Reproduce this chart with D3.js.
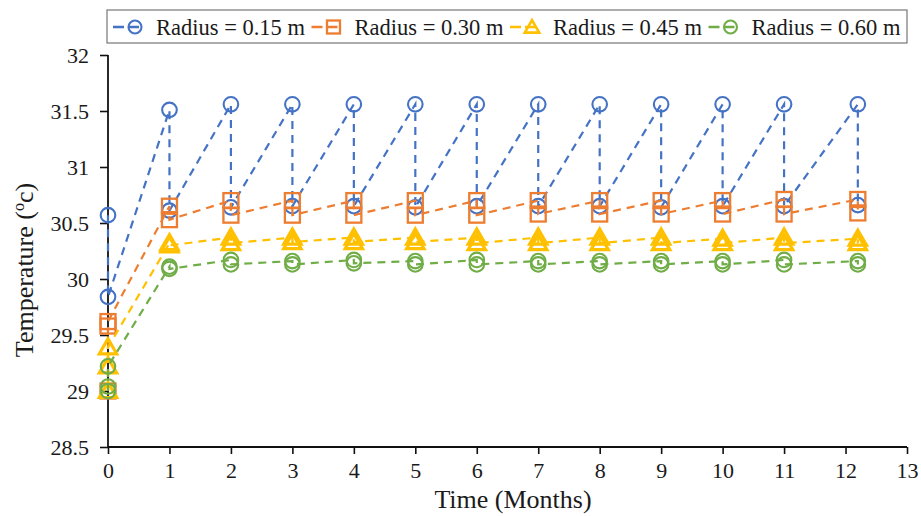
<!DOCTYPE html>
<html>
<head>
<meta charset="utf-8">
<script src="https://cdn.jsdelivr.net/npm/d3@7"></script>
<style>
  html, body { margin: 0; padding: 0; background: #fff; }
  svg { display: block; }
  text { font-family: "Liberation Serif", "Times New Roman", Tinos, "DejaVu Serif", serif; fill: #1a1a1a; }
</style>
</head>
<body>
<svg id="chart" width="921" height="516"></svg>
<script>
const FONT = '"Liberation Serif", "Times New Roman", Tinos, "DejaVu Serif", serif';

// Monthly sampling times (last sample falls a little after month 12)
const months = [1, 2, 3, 4, 5, 6, 7, 8, 9, 10, 11, 12.2];

// Readings at t = 0, followed by the monthly peak / low pairs for each radius
const blueStart = [30.57, 29.84];
const bluePeak  = [31.51, 31.56, 31.56, 31.56, 31.56, 31.56, 31.56, 31.56, 31.56, 31.56, 31.56, 31.56];
const blueLow   = [30.61, 30.64, 30.65, 30.65, 30.64, 30.65, 30.65, 30.65, 30.64, 30.65, 30.65, 30.66];

const orangeStart = [29.00, 29.58, 29.62];
const orangePeak  = [30.65, 30.70, 30.70, 30.70, 30.70, 30.70, 30.70, 30.70, 30.70, 30.70, 30.71, 30.71];
const orangeLow   = [30.53, 30.57, 30.57, 30.57, 30.57, 30.57, 30.58, 30.58, 30.58, 30.58, 30.58, 30.59];

const yellowStart = [29.00, 29.22, 29.39];
const yellowPeak  = [30.32, 30.37, 30.37, 30.37, 30.37, 30.37, 30.37, 30.37, 30.37, 30.36, 30.37, 30.36];
const yellowLow   = [30.30, 30.32, 30.33, 30.33, 30.33, 30.32, 30.32, 30.32, 30.32, 30.32, 30.32, 30.32];

const greenStart = [29.00, 29.04, 29.22];
const greenPeak  = [30.11, 30.17, 30.16, 30.17, 30.16, 30.17, 30.16, 30.16, 30.16, 30.16, 30.17, 30.16];
const greenLow   = [30.09, 30.13, 30.13, 30.14, 30.13, 30.13, 30.13, 30.13, 30.13, 30.13, 30.13, 30.13];

const seriesNames = ["Radius = 0.15 m", "Radius = 0.30 m", "Radius = 0.45 m", "Radius = 0.60 m"];
const seriesColors = ["#4472C4", "#ED7D31", "#FFC000", "#70AD47"];
const seriesMarkers = ["circle", "square", "triangle", "circle"];

const xTicks = d3.range(0, 14, 1);
const yTicks = [28.5, 29, 29.5, 30, 30.5, 31, 31.5, 32];

// Build the ordered point sequence of one series: start readings, then peak→low per month
function buildSeries(start, peak, low) {
  const pts = start.map(v => ({ t: 0, v }));
  months.forEach((m, i) => {
    pts.push({ t: m, v: peak[i] });
    pts.push({ t: m, v: low[i] });
  });
  return pts;
}

const series = [
  buildSeries(blueStart, bluePeak, blueLow),
  buildSeries(orangeStart, orangePeak, orangeLow),
  buildSeries(yellowStart, yellowPeak, yellowLow),
  buildSeries(greenStart, greenPeak, greenLow)
];

const svg = d3.select("#chart");
const x = d3.scaleLinear().domain([0, 13]).range([108, 907]);
const y = d3.scaleLinear().domain([28.5, 32]).range([447, 55]);

// Axes
const xAxis = d3.axisBottom(x).tickValues(xTicks).tickSize(7).tickPadding(8).tickFormat(d3.format("d"));
const yAxis = d3.axisLeft(y).tickValues(yTicks).tickSize(8).tickPadding(11).tickFormat(d => String(d));

const gx = svg.append("g").attr("transform", `translate(0,${y(28.5)})`).call(xAxis);
const gy = svg.append("g").attr("transform", `translate(${x(0)},0)`).call(yAxis);

[gx, gy].forEach(g => {
  g.attr("font-family", FONT).attr("font-size", 22);
  g.select(".domain").attr("stroke", "#111").attr("stroke-width", 1.8);
  g.selectAll(".tick line").attr("stroke", "#111").attr("stroke-width", 1.6);
  g.selectAll(".tick text")
    .style("font-family", FONT)
    .style("font-size", "22px")
    .attr("fill", "#1a1a1a");
});
gy.select(".domain").attr("d", `M0,${y(32)}V${y(28.5)}`);
gx.select(".domain").attr("d", `M${x(0)},0H${x(13)}`);

// Axis titles
svg.append("text")
  .attr("x", 513).attr("y", 508)
  .attr("text-anchor", "middle")
  .style("font-family", FONT)
  .style("font-size", "26px")
  .text("Time (Months)");

const yt = svg.append("text")
  .attr("transform", "translate(33,270) rotate(-90)")
  .attr("text-anchor", "middle")
  .style("font-family", FONT)
  .style("font-size", "26px");
yt.append("tspan").text("Temperature (");
yt.append("tspan").attr("dy", -9).style("font-size", "16px").text("o");
yt.append("tspan").attr("dy", 9).text("c)");

// Marker shapes
function drawMarker(g, type, color, cx, cy, legend) {
  if (type === "circle") {
    g.append("circle").attr("cx", cx).attr("cy", cy).attr("r", legend ? 6.5 : 7.3)
      .attr("fill", "none").attr("stroke", color).attr("stroke-width", 2.1);
  } else if (type === "square") {
    const s = legend ? 13 : 15;
    g.append("rect").attr("x", cx - s / 2).attr("y", cy - s / 2).attr("width", s).attr("height", s)
      .attr("fill", "none").attr("stroke", color).attr("stroke-width", 2.3);
  } else {
    const sym = d3.symbol().type(d3.symbolTriangle).size(legend ? 90 : 130);
    g.append("path").attr("d", sym()).attr("transform", `translate(${cx},${cy + 1.5})`)
      .attr("fill", "none").attr("stroke", color).attr("stroke-width", legend ? 2.6 : 3.2);
  }
}

// Series: dashed line then markers
const line = d3.line().x(d => x(d.t)).y(d => y(d.v));
series.forEach((pts, i) => {
  const g = svg.append("g");
  g.append("path").datum(pts)
    .attr("d", line)
    .attr("fill", "none")
    .attr("stroke", seriesColors[i])
    .attr("stroke-width", 2.2)
    .attr("stroke-dasharray", "8,6");
  pts.forEach(p => drawMarker(g, seriesMarkers[i], seriesColors[i], x(p.t), y(p.v), false));
});

// Legend
const lg = svg.append("g");
lg.append("rect").attr("x", 107).attr("y", 10).attr("width", 800).attr("height", 33)
  .attr("fill", "#fff").attr("stroke", "#777").attr("stroke-width", 1.2);
seriesNames.forEach((name, i) => {
  const lx = 113 + i * 198.5;
  lg.append("line").attr("x1", lx).attr("x2", lx + 30).attr("y1", 27).attr("y2", 27)
    .attr("stroke", seriesColors[i]).attr("stroke-width", 2.4).attr("stroke-dasharray", "11,4");
  drawMarker(lg, seriesMarkers[i], seriesColors[i], lx + 22, 27, true);
  lg.append("text").attr("x", lx + 43).attr("y", 34.5)
    .style("font-family", FONT)
    .style("font-size", "22.5px")
    .text(name);
});
</script>
</body>
</html>
